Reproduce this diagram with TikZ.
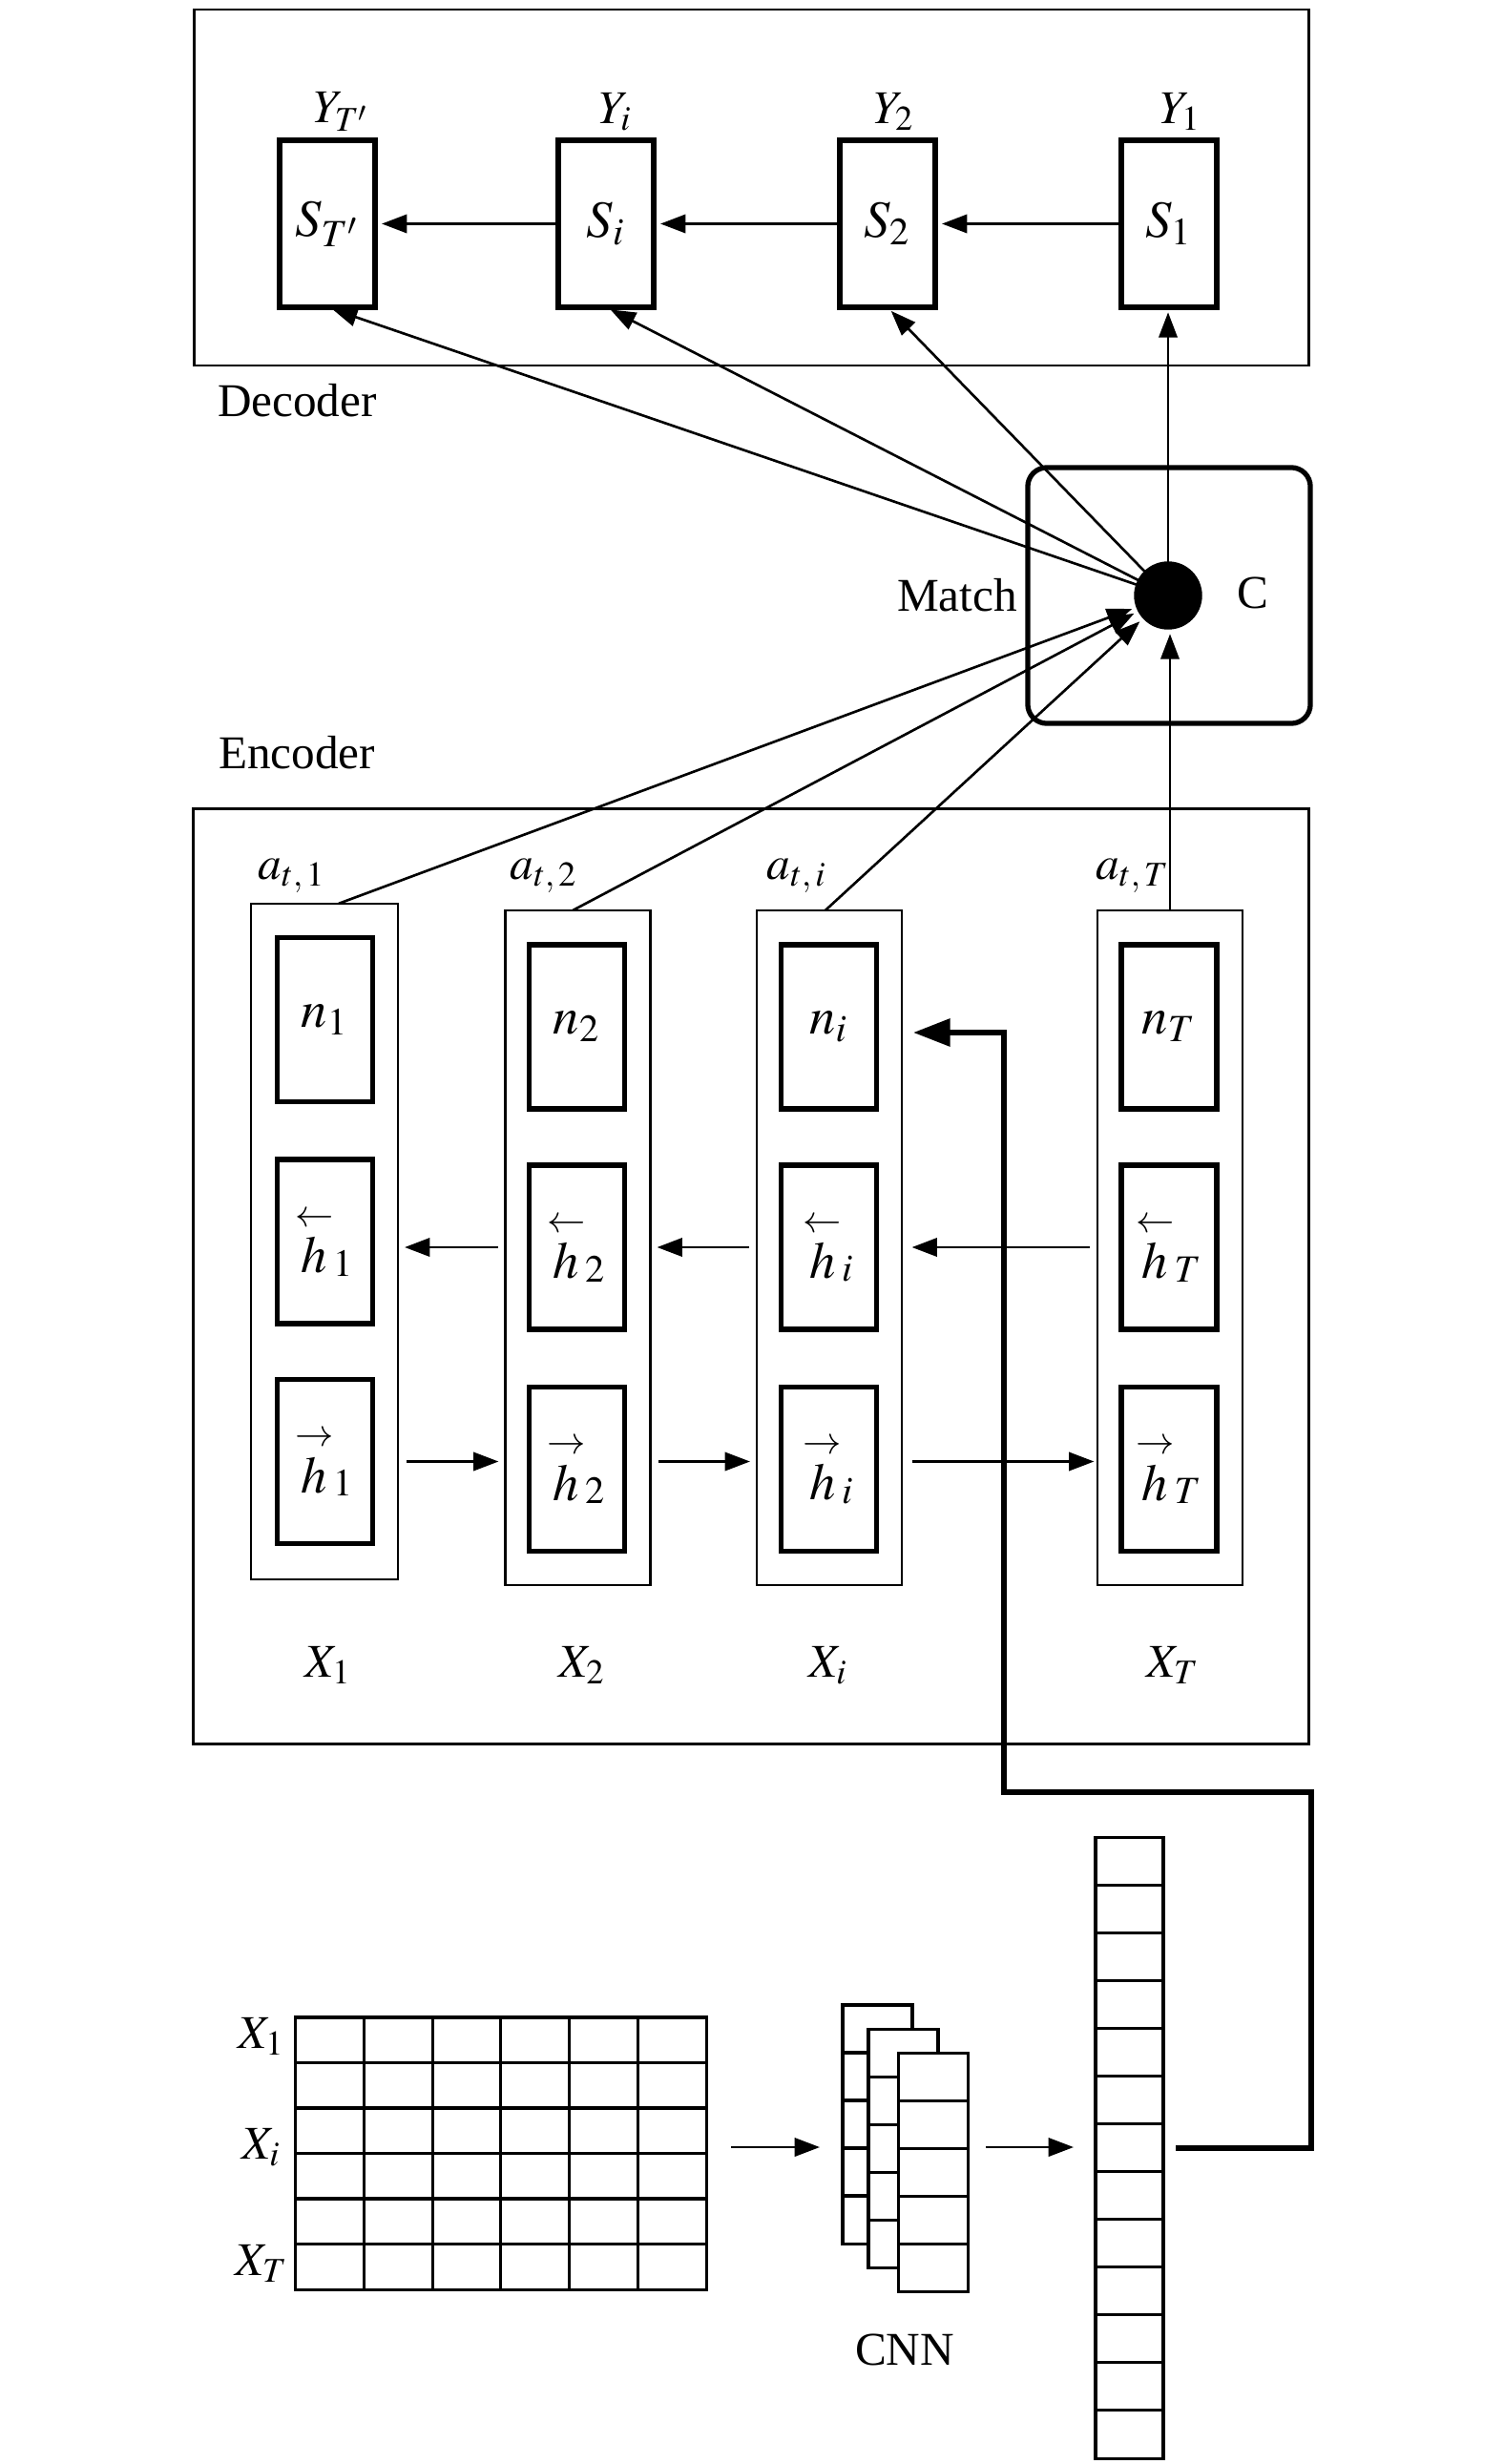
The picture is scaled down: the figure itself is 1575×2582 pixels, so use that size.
\documentclass[tikz,border=0pt]{standalone}
\usepackage{mathptmx}
\usepackage{fontspec}
\setmainfont{Liberation Serif}
\usetikzlibrary{arrows.meta,calc}
\newcommand{\hleft}[1]{{\stackrel{\scriptstyle\leftarrow}{h}}_{#1}}
\newcommand{\hright}[1]{{\stackrel{\scriptstyle\rightarrow}{h}}_{#1}}
\begin{document}
\begin{tikzpicture}[x=0.01cm,y=-0.01cm,
  every node/.style={inner sep=0pt, outer sep=0pt},
  txt/.style={font=\fontsize{14}{16}\selectfont},
  frame/.style={draw, line width=0.7pt},
  colbox/.style={draw, line width=0.6pt, minimum width=1.52cm, minimum height=7.07cm},
  cellbox/.style={draw, line width=1.5pt, minimum width=1.0cm, minimum height=1.72cm, font=\fontsize{15.5}{18}\selectfont},
  sbox/.style={draw, line width=1.5pt, minimum width=1.0cm, minimum height=1.75cm, font=\fontsize{15.5}{18}\selectfont},
  arr/.style={line width=0.75pt, -{Triangle[length=7.5pt,width=5.5pt]}},
  bigarr/.style={line width=1.7pt, -{Triangle[length=11pt,width=8pt]}},
  gridline/.style={line width=0.9pt},
  stackbox/.style={draw, fill=white, line width=0.9pt, minimum width=0.73cm, minimum height=2.5cm},
]
\useasboundingbox (0,0) rectangle (1575,2582);

% ---------------- Decoder ----------------
\node[frame, minimum width=11.67cm, minimum height=3.73cm] (dec) at (787.5,196.5) {};
\node[txt, anchor=west] (declbl) at (228,420) {Decoder};
\node[sbox] (sT) at (343,234.5) {$S_{T'}$};
\node[sbox] (si) at (635,234.5) {$S_{i}$};
\node[sbox] (s2) at (930,234.5) {$S_{2}$};
\node[sbox] (s1) at (1225,234.5) {$S_{1}$};
\node[txt] (yT) at (358,117) {$Y_{T'}$};
\node[txt] (yi) at (645,117) {$Y_{i}$};
\node[txt] (y2) at (937,117) {$Y_{2}$};
\node[txt] (y1) at (1237,117) {$Y_{1}$};
\draw[arr, shorten >=2pt] (s1.west) -- (s2.east);
\draw[arr, shorten >=2pt] (s2.west) -- (si.east);
\draw[arr, shorten >=2pt] (si.west) -- (sT.east);

% ---------------- Match ----------------
\node[draw, line width=1.5pt, rounded corners=0.2cm, minimum width=2.96cm, minimum height=2.68cm] (match) at (1225,624) {};
\node[draw, fill=black, circle, minimum size=0.7cm] (dot) at (1224,624) {};
\node[txt] (matchlbl) at (1003,624) {Match};
\node[txt] (clbl) at (1313,621) {C};

\draw[arr, shorten >=1.5pt] (dot) -- (sT.south);
\draw[arr, shorten >=1.5pt] (dot) -- (si.south);
\draw[arr, shorten >=1.5pt] (dot) -- (s2.south);
\draw[arr, shorten >=1.5pt] (dot.north) -- (dot.north |- s1.south);

% ---------------- Encoder ----------------
\node[frame, minimum width=11.68cm, minimum height=9.79cm] (enc) at (787,1337.5) {};
\node[txt, anchor=west] (enclbl) at (229,789) {Encoder};

\node[colbox, minimum width=1.54cm, minimum height=7.08cm] (c1) at (340,1301) {};
\node[colbox] (c2) at (605.5,1307.5) {};
\node[colbox] (c3) at (869,1307.5) {};
\node[colbox] (c4) at (1226,1307.5) {};

\node[cellbox] (n1) at (340.5,1068.5) {$n_{1}$};
\node[cellbox] (b1) at (340.5,1301) {$\hleft{1}$};
\node[cellbox] (f1) at (340.5,1531.5) {$\hright{1}$};
\node[cellbox] (n2) at (604.5,1076) {$n_{2}$};
\node[cellbox] (b2) at (604.5,1307) {$\hleft{2}$};
\node[cellbox] (f2) at (604.5,1539.5) {$\hright{2}$};
\node[cellbox] (n3) at (868.5,1076) {$n_{i}$};
\node[cellbox] (b3) at (868.5,1307) {$\hleft{i}$};
\node[cellbox] (f3) at (868.5,1539.5) {$\hright{i}$};
\node[cellbox] (n4) at (1225,1076) {$n_{T}$};
\node[cellbox] (b4) at (1225,1307) {$\hleft{T}$};
\node[cellbox] (f4) at (1225,1539.5) {$\hright{T}$};

\node[txt] (a1) at (306,918) {$a_{t,\,1}$};
\node[txt] (a2) at (570,918) {$a_{t,\,2}$};
\node[txt] (a3) at (835,918) {$a_{t,\,i}$};
\node[txt] (a4) at (1187,918) {$a_{t,\,T}$};

\node[txt] (x1) at (344,1745) {$X_{1}$};
\node[txt] (x2) at (610,1745) {$X_{2}$};
\node[txt] (x3) at (868,1745) {$X_{i}$};
\node[txt] (x4) at (1229,1745) {$X_{T}$};

% backward / forward arrows
\draw[arr, shorten <=2.2pt, shorten >=2pt] (c2.west |- b2) -- (c1.east |- b2);
\draw[arr, shorten <=2.2pt, shorten >=2pt] (c3.west |- b2) -- (c2.east |- b2);
\draw[arr, shorten <=2.2pt, shorten >=3pt] (c4.west |- b2) -- (c3.east |- b2);
\draw[arr, shorten <=2.5pt, shorten >=2pt] (c1.east |- f1) -- (c2.west |- f1);
\draw[arr, shorten <=2.5pt, shorten >=2pt] (c2.east |- f1) -- (c3.west |- f1);
\draw[arr, shorten <=3pt, shorten >=1pt] (c3.east |- f1) -- (c4.west |- f1);

% attention lines to dot
\draw[arr, shorten >=1.5pt] ([xshift=0.15cm]c1.north) -- (dot);
\draw[arr, shorten >=1.5pt] ([xshift=-0.05cm]c2.north) -- (dot);
\draw[arr, shorten >=1.5pt] ([xshift=-0.04cm]c3.north) -- (dot);
\draw[arr, shorten >=1.5pt] (c4.north) -- (c4.north |- dot.south);

% ---------------- CNN part ----------------
\node[draw, gridline, minimum width=4.3cm, minimum height=2.85cm] (grid) at (525,2256.5) {};
\foreach \i in {1,...,5} {
  \draw[gridline] ($(grid.north west)+(71.667*\i,0)$) -- ($(grid.south west)+(71.667*\i,0)$);
  \draw[gridline] ($(grid.north west)+(0,47.5*\i)$) -- ($(grid.north east)+(0,47.5*\i)$);
}
\node[txt] (gx1) at (274,2134) {$X_{1}$};
\node[txt] (gxi) at (274,2250) {$X_{i}$};
\node[txt] (gxT) at (274,2372) {$X_{T}$};

\node[stackbox] (cnn0) at (919.5,2226) {};
\foreach \j in {1,...,4} \draw[gridline] ($(cnn0.north west)+(0,50*\j)$) -- ($(cnn0.north east)+(0,50*\j)$);
\node[stackbox] (cnn1) at (946.5,2251.5) {};
\foreach \j in {1,...,4} \draw[gridline] ($(cnn1.north west)+(0,50*\j)$) -- ($(cnn1.north east)+(0,50*\j)$);
\node[stackbox] (cnn2) at (978,2276.5) {};
\foreach \j in {1,...,4} \draw[gridline] ($(cnn2.north west)+(0,50*\j)$) -- ($(cnn2.north east)+(0,50*\j)$);
\node[txt] (cnnlbl) at (948,2462) {CNN};

\node[draw, gridline, minimum width=0.71cm, minimum height=6.5cm] (vec) at (1183.5,2251) {};
\foreach \j in {1,...,12} \draw[gridline] ($(vec.north west)+(0,50*\j)$) -- ($(vec.north east)+(0,50*\j)$);

\coordinate (p1s) at (766,2250);
\coordinate (p1e) at (859,2250);
\coordinate (p2s) at (1033,2250);
\coordinate (p2e) at (1125,2250);
\draw[arr] (p1s) -- (p1e);
\draw[arr] (p2s) -- (p2e);

\coordinate (r1) at (1374,2251);
\coordinate (r2) at (1374,1878);
\coordinate (r3) at (1052,1878);
\coordinate (r4) at (1052,1082);
\coordinate (tipn) at (957,1082);
\draw[bigarr] ([xshift=0.13cm]vec.east) -- (r1) -- (r2) -- (r3) -- (r4) -- (tipn);
\end{tikzpicture}
\end{document}
